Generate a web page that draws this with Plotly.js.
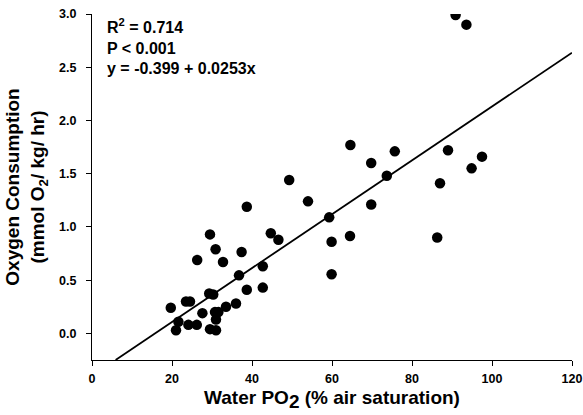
<!DOCTYPE html>
<html>
<head>
<meta charset="utf-8">
<script src="https://cdn.plot.ly/plotly-3.0.1.min.js"></script>
<style>html,body{margin:0;padding:0;background:#fff;}#chart{width:583px;height:415px;}</style>
</head>
<body>
<div id="chart"></div>
<script>
// Water PO2 (% air saturation)
const waterPO2 = [90.9, 93.6, 64.6, 75.7, 89.0, 97.5, 69.8, 94.9, 73.7, 49.3,
  87.0, 54.0, 69.8, 38.7, 59.3, 44.7, 29.5, 64.5, 86.3, 46.6,
  59.9, 30.9, 37.4, 26.3, 32.75, 42.7, 59.9, 36.75, 42.7, 38.7,
  29.3, 30.3, 23.5, 24.5, 36.0, 33.5, 19.7, 27.6, 30.75, 31.6,
  31.0, 21.6, 24.1, 26.2, 21.0, 29.5, 31.0];
// Oxygen consumption (mmol O2 / kg / hr)
const oxygenConsumption = [2.99, 2.90, 1.77, 1.71, 1.72, 1.66, 1.60, 1.55, 1.48, 1.44,
  1.41, 1.24, 1.21, 1.19, 1.09, 0.94, 0.93, 0.915, 0.90, 0.88,
  0.86, 0.79, 0.765, 0.69, 0.67, 0.63, 0.555, 0.545, 0.43, 0.41,
  0.375, 0.366, 0.30, 0.30, 0.28, 0.25, 0.24, 0.19, 0.20, 0.20,
  0.13, 0.11, 0.08, 0.08, 0.03, 0.04, 0.03];
// Regression: y = -0.399 + 0.0253x
const fitIntercept = -0.399;
const fitSlope = 0.0253;
const fitXRange = [5.9, 120];
const xTicks = [0, 20, 40, 60, 80, 100, 120];
const yTicks = [0.0, 0.5, 1.0, 1.5, 2.0, 2.5, 3.0];
const statLines = ["R<sup>2</sup> = 0.714", "P < 0.001", "y = -0.399 + 0.0253x"];

const fitY = fitXRange.map(x => fitIntercept + fitSlope * x);
const FONT = "Liberation Sans, Arial, sans-serif";

const traces = [
  {x: fitXRange, y: fitY, mode: "lines", type: "scatter",
   line: {color: "#000", width: 1.8}, hoverinfo: "skip", showlegend: false},
  {x: waterPO2, y: oxygenConsumption, mode: "markers", type: "scatter",
   marker: {color: "#000", size: 10.5}, showlegend: false}
];

const layout = {
  width: 583, height: 415,
  margin: {l: 92, r: 11, t: 14, b: 55},
  paper_bgcolor: "#fff", plot_bgcolor: "#fff",
  font: {family: FONT, color: "#000"},
  xaxis: {
    range: [0, 120], tickvals: xTicks, ticktext: xTicks.map(String),
    showgrid: false, zeroline: false, showline: true, linecolor: "#000", linewidth: 1,
    ticks: "outside", ticklen: 5, tickcolor: "#000", tickwidth: 1,
    ticklabelstandoff: 2,
    tickfont: {family: FONT, size: 12.5, weight: "bold"},
    title: {text: "Water PO<sub><span style=\"font-size:19px\">2</span></sub> (% air saturation)", font: {family: FONT, size: 19, weight: "bold"}, standoff: 5}
  },
  yaxis: {
    range: [-0.25, 3.0], tickvals: yTicks, ticktext: yTicks.map(v => v.toFixed(1)),
    showgrid: false, zeroline: false, showline: true, linecolor: "#000", linewidth: 1,
    ticks: "outside", ticklen: 5, tickcolor: "#000", tickwidth: 1,
    ticklabelstandoff: 7,
    tickfont: {family: FONT, size: 12.5, weight: "bold"},
    title: {text: "Oxygen Consumption<br>(mmol O<sub>2</sub>/ kg/ hr)", font: {family: FONT, size: 19, weight: "bold"}, standoff: 9}
  },
  annotations: [{
    xref: "paper", yref: "paper", x: 0.027, y: 1.0, xanchor: "left", yanchor: "top",
    align: "left", showarrow: false,
    text: statLines.join("<br>"),
    font: {family: FONT, size: 16, weight: "bold", color: "#000"}
  }]
};

Plotly.newPlot("chart", traces, layout, {displayModeBar: false, staticPlot: true});
</script>
</body>
</html>
